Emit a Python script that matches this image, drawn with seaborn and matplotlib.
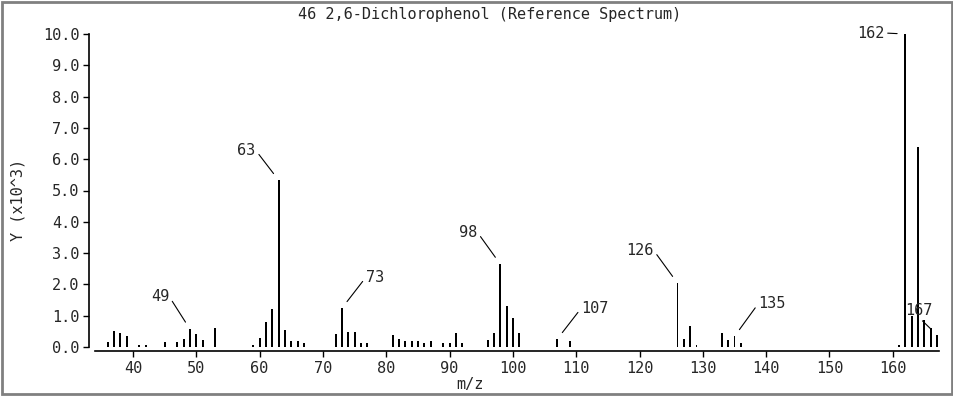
import matplotlib
matplotlib.use("Agg")
import matplotlib.pyplot as plt
from matplotlib.patches import Rectangle
import pandas as pd
import seaborn as sns

# spectrum data (m/z, intensity in x10^3)
mz = [36, 37, 38, 39, 41, 42, 45, 47, 48, 49, 50, 51, 53,
      59, 60, 61, 62, 63, 64, 65, 66, 67,
      72, 73, 74, 75, 76, 77,
      81, 82, 83, 84, 85, 86, 87, 89, 90, 91, 92,
      96, 97, 98, 99, 100, 101, 107, 109,
      126, 127, 128, 129, 133, 134, 135, 136,
      161, 162, 163, 164, 165, 166, 167]
intensity = [0.15, 0.50, 0.45, 0.34, 0.07, 0.07, 0.15, 0.15, 0.27, 0.57, 0.40, 0.21, 0.62,
             0.06, 0.30, 0.79, 1.21, 5.33, 0.55, 0.18, 0.18, 0.13,
             0.43, 1.24, 0.49, 0.49, 0.12, 0.12,
             0.37, 0.25, 0.19, 0.19, 0.19, 0.13, 0.19, 0.12, 0.12, 0.45, 0.12,
             0.21, 0.45, 2.65, 1.30, 0.93, 0.45, 0.25, 0.18,
             2.04, 0.26, 0.68, 0.07, 0.45, 0.23, 0.34, 0.13,
             0.06, 10.0, 1.00, 6.40, 0.85, 0.60, 0.38]

labelled = [49, 63, 73, 98, 107, 126, 135, 162, 167]
x_ticks = [40, 50, 60, 70, 80, 90, 100, 110, 120, 130, 140, 150, 160]
y_ticks = [0, 1, 2, 3, 4, 5, 6, 7, 8, 9, 10]

df = pd.DataFrame({"mz": mz, "y": intensity})

sns.set_style("ticks")
plt.rcParams["font.family"] = ["DejaVu Sans Mono"]

fig = plt.figure(figsize=(9.54, 3.96), dpi=100)
ax = fig.add_axes([95 / 954, 49 / 396, 844 / 954, 313 / 396])

sns.barplot(data=df, x="mz", y="y", native_scale=True, width=0.3,
            color="black", saturation=1, linewidth=0, ax=ax)

ax.set_xlim(34, 167.3)
ax.set_ylim(0, 10)
ax.set_xticks(x_ticks)
ax.set_xticklabels([str(t) for t in x_ticks])
ax.set_yticks(y_ticks)
ax.set_yticklabels([f"{t:.1f}" for t in y_ticks])
ax.tick_params(labelsize=11, length=4, width=1, color="black", pad=3)

for s in ["top", "right"]:
    ax.spines[s].set_visible(False)
ax.spines["left"].set_position(("outward", 4))
ax.spines["bottom"].set_position(("outward", 3))
for s in ["left", "bottom"]:
    ax.spines[s].set_color("black")
    ax.spines[s].set_linewidth(1.2)

ax.set_xlabel("m/z", fontsize=11, va="center")
ax.xaxis.set_label_coords(0.444, -0.121)
ax.set_ylabel("Y (x10^3)", fontsize=11, va="center")
ax.yaxis.set_label_coords(-0.091, 0.47)

# peak labels: offset in pixels, alignment
offsets = {
    49: (-21, 33, "right"),
    63: (-23, 30, "right"),
    73: (24, 31, "left"),
    98: (-23, 32, "right"),
    107: (24, 31, "left"),
    126: (-24, 33, "right"),
    135: (24, 33, "left"),
    162: (-21, 1, "right"),
    167: (-18, 25, "center"),
}
for m in labelled:
    h = intensity[mz.index(m)]
    dx, dy, ha = offsets[m]
    rel = {"right": (1, 0.5), "left": (0, 0.5), "center": (0.5, 0)}[ha]
    ax.annotate(str(m), xy=(m, h), xytext=(dx, dy), textcoords="offset pixels",
                ha=ha, va="center", fontsize=11, annotation_clip=False,
                arrowprops=dict(arrowstyle="-", color="black", lw=0.8,
                                shrinkA=0, shrinkB=6, relpos=rel))

fig.text(490 / 954, 1 - 15 / 396, "46 2,6-Dichlorophenol (Reference Spectrum)",
         ha="center", va="center", fontsize=11)

fig.patches.append(Rectangle((0.002, 0.004), 0.996, 0.992, transform=fig.transFigure,
                             fill=False, edgecolor="#808080", linewidth=2))

fig.savefig("out.png", dpi=100)
